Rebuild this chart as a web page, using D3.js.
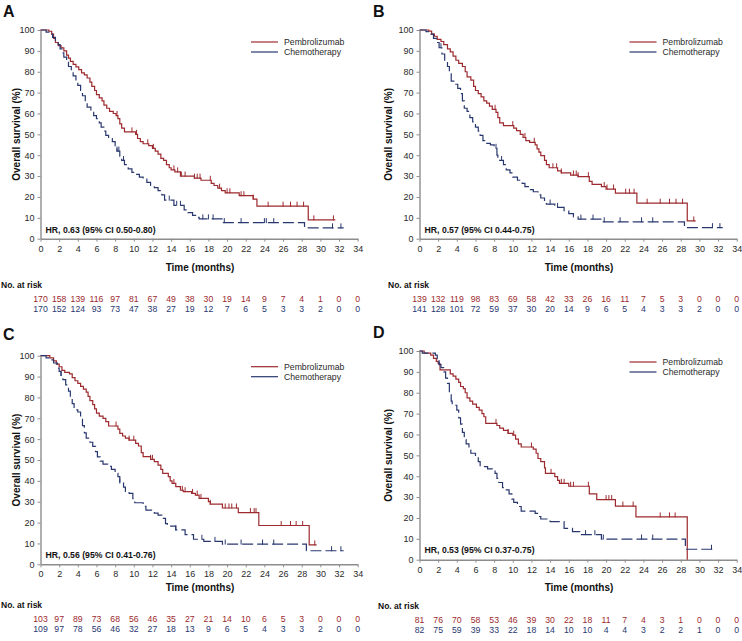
<!DOCTYPE html>
<html><head><meta charset="utf-8">
<script src="https://cdn.jsdelivr.net/npm/d3@7"></script>
<style>body{margin:0;background:#fff;} svg{display:block;font-family:"Liberation Sans",Arial,sans-serif;}</style>
</head><body><svg id="c" width="742" height="641"></svg>
<script>
// ---------------- DATA ----------------
const timeTicks = [0,2,4,6,8,10,12,14,16,18,20,22,24,26,28,30,32,34];
const survTicks = [0,10,20,30,40,50,60,70,80,90,100];
const panelLetters = ["A","B","C","D"];
const seriesNames = ["Pembrolizumab","Chemotherapy"];
const hrLabels = ["HR, 0.63 (95% CI 0.50-0.80)","HR, 0.57 (95% CI 0.44-0.75)","HR, 0.56 (95% CI 0.41-0.76)","HR, 0.53 (95% CI 0.37-0.75)"];
const xTitle = "Time (months)";
const yTitle = "Overall survival (%)";
const riskTitle = "No. at risk";

// Kaplan-Meier steps: [time (months), survival (%)]
const pembroA = [[0,100],[0.9,99.4],[1.2,98],[1.4,96],[1.6,94],[1.9,92.5],[2.2,91.5],[2.5,90],[2.8,88],[3.0,86.5],[3.2,85],[3.5,83.5],[3.8,82.3],[4.1,81],[4.4,79.5],[4.7,78.5],[5.0,77],[5.3,75],[5.5,73],[5.8,71],[6.0,69],[6.3,67.5],[6.6,66],[6.8,64],[7.1,62.5],[7.4,61],[7.8,60],[8.1,59],[8.3,57.5],[8.5,55],[8.7,53],[9.0,51.2],[10.2,50],[10.4,48],[10.7,46.5],[11.0,45.5],[11.6,44.6],[12.0,43.3],[12.3,42],[12.6,40.5],[12.9,38.5],[13.2,37.5],[13.5,35.5],[13.8,34],[14.0,33],[14.4,32],[15.0,30],[16.5,29],[17.2,28],[18.3,26.5],[18.6,25.5],[19.0,24.2],[19.4,23],[19.8,22],[21.3,20.6],[22.8,19],[23.2,15.6],[28.7,9],[31.6,9]];
const chemoA = [[0,100],[0.6,99],[1.0,98],[1.3,96.5],[1.6,95],[1.9,93],[2.1,91],[2.3,89],[2.5,87],[2.8,84.5],[3.0,82.5],[3.3,80],[3.5,78],[3.8,75.5],[4.0,73.5],[4.3,71],[4.5,68.5],[4.8,65.5],[5.0,63],[5.4,61],[5.7,59],[6.0,57.5],[6.3,55.5],[6.5,53.5],[6.8,51.5],[7.0,49.5],[7.3,48],[7.7,46.5],[8.0,44],[8.2,42],[8.5,39.5],[8.7,37.5],[9.0,35.5],[9.4,33.5],[9.8,31.8],[10.2,30.8],[10.6,29.5],[11.0,28.5],[11.4,27],[11.8,25.5],[12.2,24.5],[12.6,23],[13.0,21],[13.3,18.5],[14.3,16],[15.4,13.8],[15.8,12.5],[16.3,11.2],[16.7,10.2],[17.0,9.5],[19.6,7.7],[28.3,5.2],[32.5,5.2]];
const pembroB = [[0,100],[1.0,99.5],[1.3,98],[1.6,97],[1.9,95.5],[2.3,94.5],[2.6,93],[3.0,91],[3.3,89.5],[3.6,87.5],[3.9,85.5],[4.2,84],[4.6,82.5],[4.9,80],[5.1,77.5],[5.5,76],[5.8,73],[6.0,71],[6.3,69.5],[6.6,68],[6.9,66],[7.2,65],[7.5,63.5],[7.8,62],[8.2,60.5],[8.4,58],[8.6,55.5],[9.0,54.2],[10.1,53],[10.4,51.8],[10.8,50],[11.1,48.5],[11.4,47],[11.8,46.2],[12.4,45],[12.6,43],[12.8,41.5],[13.0,39.8],[13.4,37.5],[13.6,35.5],[13.9,34],[14.8,32.5],[15.2,31.5],[16.2,30.5],[17.0,29.7],[18.2,27.5],[18.5,26],[19.5,25],[20.0,23.8],[21.0,21.8],[23.3,17],[28.7,8.5],[29.6,8.5]];
const chemoB = [[0,100],[0.7,99.2],[1.1,98],[1.5,96],[1.8,94],[2.1,91.5],[2.4,88.5],[2.7,85.5],[3.0,82.5],[3.2,79],[3.4,75.5],[3.8,74],[4.1,72],[4.4,69.5],[4.6,66],[4.8,62.5],[5.1,61],[5.4,58],[5.7,56],[6.0,53.5],[6.3,51.5],[6.5,49.5],[6.8,47],[7.0,45.7],[7.6,45],[8.0,43.3],[8.3,40],[8.4,37.5],[9.0,35.5],[9.3,33],[9.7,31.5],[10.0,29.5],[10.5,28],[11.0,26.5],[11.3,25],[11.8,23.5],[12.2,22.5],[12.7,21],[13.0,19.5],[13.4,18],[13.6,16.6],[14.5,15],[15.5,13.4],[16.0,12],[16.5,10.5],[17.0,9.4],[19.5,8.1],[28.4,5.3],[32.5,5.3]];
const pembroC = [[0,100],[1.0,99],[1.4,97.5],[1.7,96],[2.0,94.7],[2.3,93],[2.6,92],[3.1,91.3],[3.4,89.5],[3.7,88],[4.0,86.7],[4.3,85.3],[4.6,84],[4.9,82.5],[5.1,80.5],[5.3,78.5],[5.6,76.5],[5.8,74.5],[6.0,72.5],[6.3,71],[6.7,70],[7.0,68.4],[7.3,66.3],[8.3,64.8],[8.5,62.8],[8.8,61.5],[9.1,60.5],[9.5,59.5],[10.2,58],[10.5,56.7],[10.8,53.5],[11.0,51.6],[11.8,50.3],[12.2,49.2],[12.6,47.5],[12.9,45.5],[13.1,43.6],[13.7,42],[13.9,40],[14.1,38.8],[14.5,37.2],[15.0,35.5],[15.3,34.8],[16.2,34],[16.6,33.2],[17.0,31.6],[18.0,30],[18.2,28.8],[19.5,27],[21.2,24.8],[23.4,18.6],[28.8,9.3],[29.6,9.3]];
const chemoC = [[0,100],[0.6,99],[1.0,98],[1.4,96.5],[1.8,94],[2.0,92.5],[2.2,90.5],[2.4,88.5],[2.7,86],[3.0,83],[3.2,80],[3.4,77],[3.6,74],[4.0,73],[4.3,70],[4.5,66.5],[4.7,63],[4.9,60.5],[5.3,58.5],[5.6,56.5],[5.9,54],[6.1,51.5],[6.4,49.5],[6.7,48],[7.2,47],[7.6,45.5],[8.0,43.6],[8.3,42],[8.5,39],[8.9,37],[9.1,35],[9.5,34],[9.9,31.5],[10.1,29.5],[11.0,27.8],[11.3,26],[12.2,24.5],[12.6,23.6],[13.0,22],[13.4,19.5],[13.6,18.3],[14.5,16.5],[15.5,14.2],[16.4,12],[17.5,11],[19.5,9.7],[28.5,6.5],[32.5,6.5]];
const pembroD = [[0,100],[0.5,99],[1.2,98],[1.5,96.5],[1.8,95],[2.0,94],[2.2,91],[3.3,89],[3.6,88],[3.9,86.5],[4.2,85],[4.4,83],[4.7,82],[4.9,80],[5.1,77.5],[5.4,76],[5.7,74.5],[6.1,73],[6.4,71.7],[6.7,70],[6.9,68.5],[7.1,65.3],[8.3,64.3],[8.6,63],[9.0,62],[9.5,60.5],[10.0,59.7],[10.3,57.8],[10.6,55.5],[10.9,54],[12.2,53],[12.5,51],[12.7,48.5],[13.0,47],[13.4,44],[13.5,41.4],[14.5,39.8],[14.8,38],[15.0,36.6],[16.0,35.2],[18.2,31.5],[19.0,28.8],[21.0,25.7],[23.2,20.5],[28.7,0]];
const chemoD = [[0,100],[0.3,99],[1.7,98],[1.9,96],[2.1,93.5],[2.3,92],[2.6,90],[2.8,87],[3.0,84.5],[3.2,80],[3.4,76],[3.5,74],[4.0,71.7],[4.2,68],[4.4,65],[4.6,61],[4.8,57.5],[5.0,55.5],[5.3,52.5],[5.5,51],[6.0,49.4],[6.3,47],[6.5,44.6],[7.3,43.5],[7.8,42.5],[8.1,41.4],[8.3,39],[8.5,37],[8.9,34.5],[9.3,33.5],[9.6,31.5],[9.9,29],[10.1,27.5],[10.5,25.5],[10.9,23.3],[12.4,22.2],[12.8,20.7],[13.0,19.5],[14.0,18.2],[15.5,15],[16.4,13.5],[17.2,12],[19.5,9.9],[28.5,5],[31.6,5]];

// Censoring times (months)
const censorPembroA = [8.2,9.8,10.3,11.5,12.1,14.3,14.7,15.1,15.5,16.5,16.8,17.1,18.2,19.2,20.0,20.3,21.5,21.8,22.8,24.4,26.0,26.8,27.5,28.2,29.3,31.4];
const censorChemoA = [8.2,8.4,8.9,13.8,14.6,15.0,17.4,18.0,18.5,19.7,21.5,24.0,24.2,25.0,31.3,32.2];
const censorPembroB = [8.1,10.0,11.3,12.3,14.3,14.7,15.2,16.5,16.8,17.0,18.1,19.8,20.1,20.8,22.1,22.5,23.0,24.4,25.8,26.8,27.5,28.2,29.4];
const censorChemoB = [2.3,8.2,8.8,14.0,14.8,17.3,18.6,19.8,21.5,23.8,25.0,31.4,32.2];
const censorPembroC = [8.1,9.5,10.0,11.8,12.0,14.3,15.2,15.5,16.3,16.8,17.2,18.2,19.8,20.2,20.5,21.0,22.5,22.9,23.1,25.8,26.8,27.4,28.1,29.4];
const censorChemoC = [2.2,8.5,14.5,17.3,18.7,19.8,21.5,23.8,25.0,31.2,32.2];
const censorPembroD = [8.2,9.5,10.1,12.0,14.1,15.2,15.5,16.2,16.5,18.1,20.0,20.3,20.6,21.8,22.9,25.8,26.8,27.4];
const censorChemoD = [2.1,17.8,18.8,19.7,23.8,25.0,31.3];

// Numbers at risk at each time tick
const riskPembroA = [170,158,139,116,97,81,67,49,38,30,19,14,9,7,4,1,0,0];
const riskChemoA  = [170,152,124,93,73,47,38,27,19,12,7,6,5,3,3,2,0,0];
const riskPembroB = [139,132,119,98,83,69,58,42,33,26,16,11,7,5,3,0,0,0];
const riskChemoB  = [141,128,101,72,59,37,30,20,14,9,6,5,4,3,3,2,0,0];
const riskPembroC = [103,97,89,73,68,56,46,35,27,21,14,10,6,5,3,0,0,0];
const riskChemoC  = [109,97,78,56,46,32,27,18,13,9,6,5,4,3,3,2,0,0];
const riskPembroD = [81,76,70,58,53,46,39,30,22,18,11,7,4,3,1,0,0,0];
const riskChemoD  = [82,75,59,39,33,22,18,14,10,10,4,4,3,2,2,1,0,0];

// ---------------- LAYOUT ----------------
const RED = "#9c2a2e", BLUE = "#28386f", AXIS = "#8d8d8d", TXT = "#2a2a2a";
const layout = [
  {x0:40.5, x1:357.7, yT:30, yB:238.7, lx:3, ly:16.7, legX:251, legY:42, hrY:229.5, ytX:16, timeX:200, timeY:267, nrX:1, nrY:285, rY1:299, rY2:309},
  {x0:419.5, x1:736.7, yT:30, yB:238.7, lx:373, ly:16.7, legX:629.5, legY:42, hrY:229.5, ytX:388.5, timeX:579, timeY:267, nrX:388, nrY:285, rY1:299, rY2:309},
  {x0:40.5, x1:357.7, yT:355.7, yB:564.3, lx:3, ly:340, legX:251, legY:366.7, hrY:554.7, ytX:16, timeX:200, timeY:587, nrX:1, nrY:605, rY1:619, rY2:629},
  {x0:419.5, x1:736.7, yT:351, yB:559.7, lx:373, ly:338, legX:629.5, legY:362, hrY:550, ytX:388.5, timeX:579, timeY:587, nrX:378, nrY:606, rY1:620, rY2:630}
];
const curves = [[pembroA,chemoA],[pembroB,chemoB],[pembroC,chemoC],[pembroD,chemoD]];
const censors = [[censorPembroA,censorChemoA],[censorPembroB,censorChemoB],[censorPembroC,censorChemoC],[censorPembroD,censorChemoD]];
const risks = [[riskPembroA,riskChemoA],[riskPembroB,riskChemoB],[riskPembroC,riskChemoC],[riskPembroD,riskChemoD]];

const svg = d3.select("#c");
svg.append("rect").attr("width",742).attr("height",641).attr("fill","#fff");

function survAt(curve, t){ let s = curve[0][1]; for (const d of curve){ if (d[0] <= t) s = d[1]; else break; } return s; }

layout.forEach((p, i) => {
  const g = svg.append("g");
  const x = d3.scaleLinear().domain([0,34]).range([p.x0, p.x1]);
  const y = d3.scaleLinear().domain([0,100]).range([p.yB, p.yT]);

  // axes
  const gy = g.append("g").attr("transform",`translate(${p.x0},0)`)
    .call(d3.axisLeft(y).tickValues(survTicks).tickSize(3).tickSizeOuter(0).tickPadding(3));
  const gx = g.append("g").attr("transform",`translate(0,${p.yB})`)
    .call(d3.axisBottom(x).tickValues(timeTicks).tickSize(3).tickSizeOuter(0).tickPadding(3.5));
  [gy,gx].forEach(a => {
    a.select(".domain").attr("stroke",AXIS).attr("stroke-width",1.4);
    a.selectAll(".tick line").attr("stroke",AXIS).attr("stroke-width",1);
    a.selectAll(".tick text").attr("fill",TXT).style("font-size","9px").style("font-family","'Liberation Sans',Arial,sans-serif");
  });

  // curves
  const line = d3.line().x(d => x(d[0])).y(d => y(d[1])).curve(d3.curveStepAfter);
  const cols = [RED, BLUE];
  curves[i].forEach((c, k) => {
    g.append("path").datum(c).attr("d", line).attr("fill","none")
      .attr("stroke", cols[k]).attr("stroke-width",1.2)
      .attr("stroke-dasharray", k === 1 ? "11,4" : null);
    g.append("g").selectAll("line").data(censors[i][k]).join("line")
      .attr("x1", t => x(t)).attr("x2", t => x(t))
      .attr("y1", t => y(survAt(c, t)) - 4.5).attr("y2", t => y(survAt(c, t)) + 0.5)
      .attr("stroke", cols[k]).attr("stroke-width",1);
  });

  // legend
  seriesNames.forEach((n, k) => {
    const ly = p.legY + k*10;
    g.append("line").attr("x1",p.legX).attr("x2",p.legX+27).attr("y1",ly).attr("y2",ly)
      .attr("stroke",cols[k]).attr("stroke-width",1.2);
    g.append("text").attr("x",p.legX+33).attr("y",ly+3).text(n)
      .attr("fill",TXT).style("font-size","8.7px");
  });

  // HR
  g.append("text").attr("x",x(0)+5).attr("y",p.hrY+3).text(hrLabels[i])
    .attr("fill","#111").style("font-size","8.7px").style("font-weight","bold");

  // panel letter
  g.append("text").attr("x",p.lx).attr("y",p.ly).text(panelLetters[i])
    .attr("fill","#111").style("font-size","16px").style("font-weight","bold");

  // y title
  g.append("text").attr("transform",`translate(${p.ytX+3.5},${(p.yT+p.yB)/2}) rotate(-90)`)
    .attr("text-anchor","middle").text(yTitle)
    .attr("fill","#111").style("font-size","10px").style("font-weight","bold");

  // x title
  g.append("text").attr("x",p.timeX).attr("y",p.timeY+3.5).attr("text-anchor","middle").text(xTitle)
    .attr("fill","#111").style("font-size","10px").style("font-weight","bold");

  // risk table
  g.append("text").attr("x",p.nrX).attr("y",p.nrY+3).text(riskTitle)
    .attr("fill","#111").style("font-size","8.5px").style("font-weight","bold");
  risks[i].forEach((r, k) => {
    g.append("g").selectAll("text").data(r).join("text")
      .attr("x",(d, j) => x(timeTicks[j])).attr("y", (k === 0 ? p.rY1 : p.rY2) + 3)
      .attr("text-anchor","middle").text(d => d)
      .attr("fill", cols[k]).style("font-size","8.7px");
  });
});
</script></body></html>
